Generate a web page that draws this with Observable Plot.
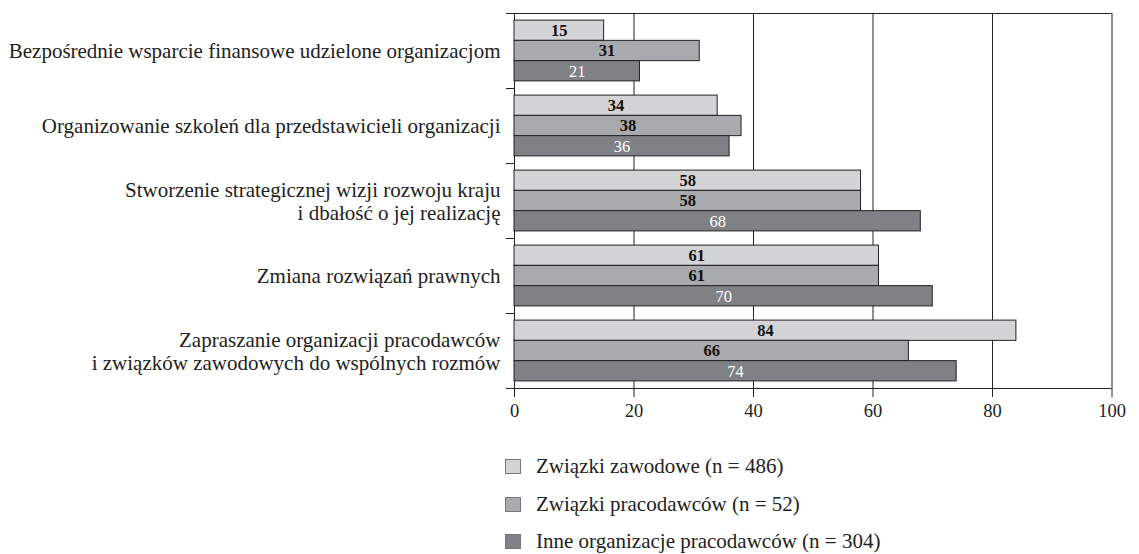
<!DOCTYPE html>
<html>
<head>
<meta charset="utf-8">
<script src="https://cdn.jsdelivr.net/npm/d3@7"></script>
<script src="https://cdn.jsdelivr.net/npm/@observablehq/plot@0.6"></script>
<style>
  body { margin: 0; background: #fff; font-family: "Liberation Serif", serif; }
  #chart svg { display: block; }
  .legend { margin-left: 505px; margin-top: 18px; font-size: 21px; color: #222; }
  .legend .row { display: flex; align-items: center; height: 37.5px; }
  .legend .sw { width: 14px; height: 13px; border: 1px solid #777; margin-right: 15px; box-sizing: content-box; }
</style>
</head>
<body>
<div id="chart"></div>
<script>
const categories = [
  "Bezpośrednie wsparcie finansowe udzielone organizacjom",
  "Organizowanie szkoleń dla przedstawicieli organizacji",
  "Stworzenie strategicznej wizji rozwoju kraju\ni dbałość o jej realizację",
  "Zmiana rozwiązań prawnych",
  "Zapraszanie organizacji pracodawców\ni związków zawodowych do wspólnych rozmów"
];
const seriesNames = [
  "Związki zawodowe (n = 486)",
  "Związki pracodawców (n = 52)",
  "Inne organizacje pracodawców (n = 304)"
];
const zwiazkiZawodowe = [15, 34, 58, 61, 84];
const zwiazkiPracodawcow = [31, 38, 58, 61, 66];
const inneOrganizacje = [21, 36, 68, 70, 74];
const xTicks = [0, 20, 40, 60, 80, 100];
const gridValues = [20, 40, 60, 80];
const colors = ["#d3d4d6", "#a9aaad", "#808185"];

const seriesValues = [zwiazkiZawodowe, zwiazkiPracodawcow, inneOrganizacje];
const data = [];
categories.forEach((cat, ci) => {
  seriesValues.forEach((vals, si) => {
    data.push({cat, series: seriesNames[si], i: si, value: vals[ci]});
  });
});
const yDomain = [-0.35, 3.35];

const chart = Plot.plot({
  width: 1139,
  height: 430,
  marginLeft: 514,
  marginRight: 27.5,
  marginTop: 12,
  marginBottom: 42,
  style: {fontFamily: "Liberation Serif", color: "#222", background: "#fff"},
  x: {domain: [0, 100]},
  y: {domain: yDomain, reverse: true, axis: null},
  fy: {domain: categories, padding: 0},
  color: {domain: seriesNames, range: colors},
  marks: [
    Plot.ruleX(gridValues, {stroke: "#222", strokeWidth: 1}),
    Plot.ruleX([0, 100], {stroke: "#222", strokeWidth: 1}),
    Plot.ruleY([categories[0]], {fy: d => d, y: yDomain[0], stroke: "#222"}),
    Plot.ruleY([categories[categories.length - 1]], {fy: d => d, y: yDomain[1], stroke: "#222"}),
    Plot.rect(data, {x1: 0, x2: "value", y1: "i", y2: d => d.i + 1, fy: "cat", fill: "series", stroke: "#222", strokeWidth: 1}),
    Plot.text(data.filter(d => d.i < 2), {x: d => d.value / 2, y: d => d.i + 0.5, fy: "cat", text: d => String(d.value), fill: "#111", fontWeight: "bold", fontSize: 16.5}),
    Plot.text(data.filter(d => d.i === 2), {x: d => d.value / 2, y: d => d.i + 0.5, fy: "cat", text: d => String(d.value), fill: "#fff", fontSize: 16.5}),
    Plot.axisY({ticks: yDomain, tickSize: 8, tickFormat: () => "", label: null, stroke: "#222"}),
    Plot.axisFy({anchor: "left", tickSize: 0, tickPadding: 14, fontSize: 21, lineHeight: 1.1, label: null, fill: "#222"}),
    Plot.axisX({ticks: xTicks, tickSize: 9, tickPadding: 6, fontSize: 18.5, label: null, fill: "#222", stroke: "#222"})
  ]
});
document.getElementById("chart").appendChild(chart);

const legend = document.createElement("div");
legend.className = "legend";
seriesNames.forEach((name, i) => {
  const row = document.createElement("div");
  row.className = "row";
  const sw = document.createElement("span");
  sw.className = "sw";
  sw.style.background = colors[i];
  const t = document.createElement("span");
  t.textContent = name;
  row.appendChild(sw);
  row.appendChild(t);
  legend.appendChild(row);
});
document.body.appendChild(legend);
</script>
</body>
</html>
